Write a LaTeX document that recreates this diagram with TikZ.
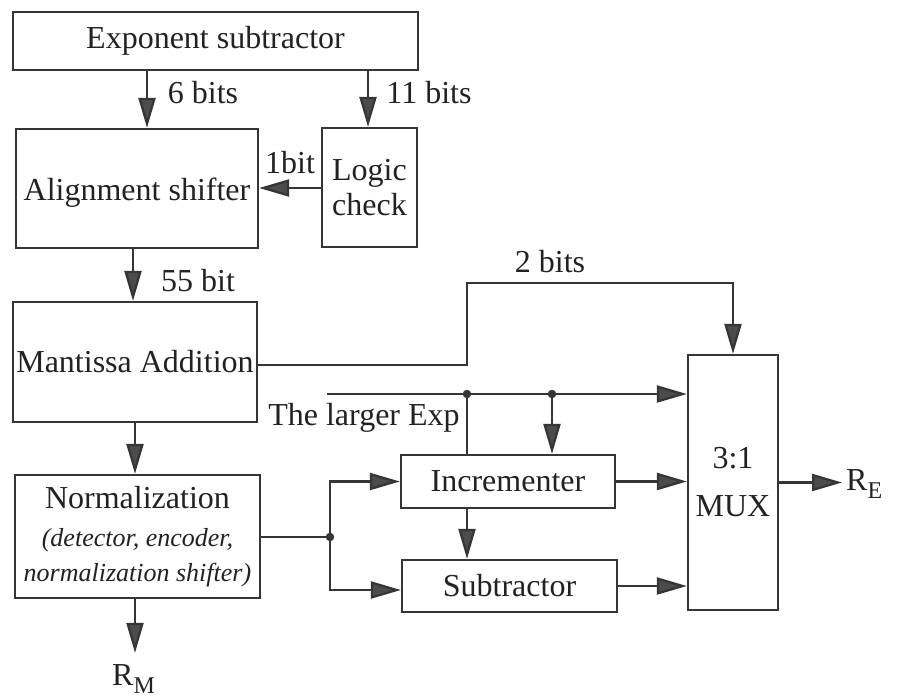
\documentclass[tikz,border=0pt]{standalone}
\usepackage{fontspec}
\setmainfont{Liberation Serif}
\usetikzlibrary{arrows.meta}
\definecolor{ink}{HTML}{222222}
\definecolor{linec}{HTML}{363636}
\definecolor{tipc}{HTML}{4C4C4C}
\newcommand{\sublow}[1]{\raisebox{-0.27em}{\fontsize{24}{24}\selectfont #1}}
\begin{document}
\begin{tikzpicture}[x=1pt,y=-1pt,
  every node/.style={text=ink, font=\fontsize{32}{35}\selectfont},
  block/.style={draw=linec, line width=2.3pt, inner sep=0pt, align=center},
  flow/.style={draw=linec, line width=2.3pt,
    -{Triangle[length=30pt,width=17pt,fill=tipc]}},
  plain/.style={draw=linec, line width=2.3pt},
  lbl/.style={inner sep=0pt, anchor=base},
  junction/.style={circle, fill=linec, draw=linec, inner sep=0pt, minimum size=8pt}
]
\useasboundingbox[fill=white] (0,0) rectangle (902,699);

% blocks
\node[block, minimum width=405pt, minimum height=58pt] (exp) at (215.5,41) {Exponent subtractor};
\node[block, minimum width=242pt, minimum height=119pt] (align) at (137,188.5) {\raisebox{-12pt}[0pt][0pt]{Alignment shifter}};
\node[block, minimum width=95pt, minimum height=119pt] (logic) at (369.5,187.5) {Logic\\check};
\node[block, minimum width=244pt, minimum height=120pt] (mant) at (135,362) {Mantissa Addition};
\node[block, minimum width=245pt, minimum height=123pt] (norm) at (137.5,536.5)
  {Normalization\\[3pt]{\fontsize{26}{36}\selectfont\itshape (detector, encoder,}\\{\fontsize{26}{36}\selectfont\itshape normalization shifter)}};
\node[block, minimum width=214pt, minimum height=53pt] (incr) at (508,481.5) {Incrementer};
\node[block, minimum width=215pt, minimum height=52pt] (sub) at (509.5,586) {Subtractor};
\node[block, minimum width=90pt, minimum height=255pt, font=\fontsize{32}{48}\selectfont] (mux) at (733,482.5) {3:1\\MUX};

% outputs
\node[inner sep=0pt, anchor=base west] (rm) at (112,685) {R\sublow{M}};
\node[inner sep=0pt, anchor=base west] (re) at (846,490) {R\sublow{E}};

% helper columns and rows
\coordinate (c6) at (147,0);
\coordinate (c11) at (368,0);
\coordinate (cA) at (133,0);
\coordinate (cM) at (135,0);
\coordinate (cT) at (467,0);
\coordinate (r1b) at (0,188);
\coordinate (rmant) at (0,365);
\coordinate (r2) at (0,283);
\coordinate (rbus) at (0,394);
\coordinate (rsub) at (0,590);
\coordinate (busstart) at (327,394);

% junctions
\node[junction] (j0) at (330,537) {};
\node[junction] (j1) at (467,394) {};
\node[junction] (j2) at (552,394) {};

% connectors
\draw[flow] (exp.south -| c6) -- (align.north -| c6);
\draw[flow] (exp.south -| c11) -- (logic.north -| c11);
\draw[flow] (logic.west |- r1b) -- (align.east |- r1b);
\draw[flow] (align.south -| cA) -- (mant.north -| cA);
\draw[flow] (mant.south -| cM) -- (norm.north -| cM);
\draw[flow, shorten >=11pt] (norm.south -| cM) -- (rm.north -| cM);
\draw[flow] (mant.east |- rmant) -- (cT |- rmant) -- (cT |- r2) -- (mux.north |- r2) -- (mux.north);
\draw[flow] (busstart) -- (mux.west |- rbus);
\draw[plain] (j1.center) -- (incr.north -| j1);
\draw[flow] (j2.center) -- (incr.north -| j2);
\draw[flow] (incr.south -| cT) -- (sub.north -| cT);
\draw[flow] (incr.east) -- (mux.west |- incr.east);
\draw[flow] (sub.east) -- (mux.west |- sub.east);
\draw[plain] (norm.east |- j0) -- (j0.center);
\draw[flow] (j0.center) |- (incr.west);
\draw[flow] (j0.center) |- (sub.west |- rsub);
\draw[flow, shorten >=4pt] (mux.east) -- (re.west |- mux.east);

% labels
\node[lbl] (t6) at (203,103) {6 bits};
\node[lbl] (t11) at (429,103) {11 bits};
\node[lbl] (t1) at (290,173) {1bit};
\node[lbl] (t55) at (198,291) {55 bit};
\node[lbl] (t2) at (550,272) {2 bits};
\node[lbl] (tle) at (364,425) {The larger Exp};
\end{tikzpicture}
\end{document}
